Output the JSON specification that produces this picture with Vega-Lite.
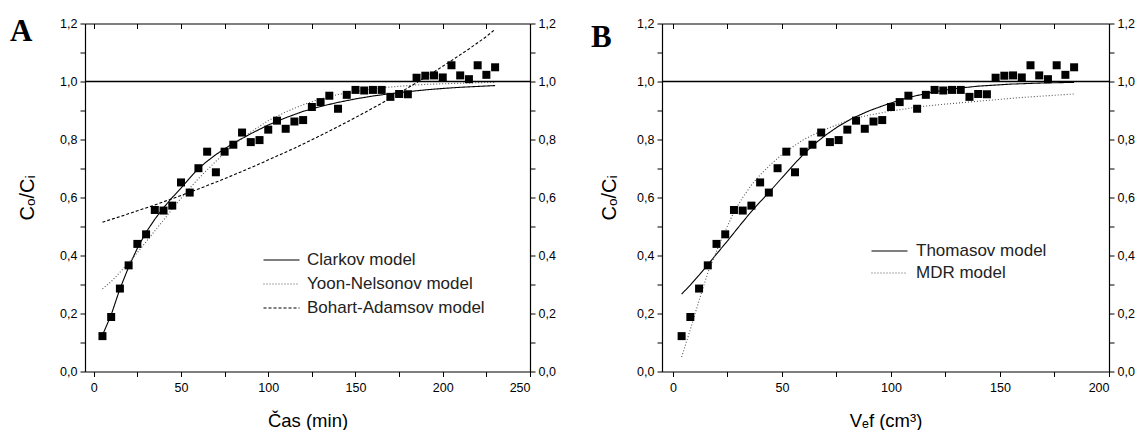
{
  "$schema": "https://vega.github.io/schema/vega-lite/v6.json",
  "padding": {"left": 10, "top": 15.5, "right": 0, "bottom": 0},
  "spacing": 35,
  "background": "white",
  "resolve": {"scale": {"color": "independent", "strokeDash": "independent"}, "legend": {"color": "independent", "strokeDash": "independent"}},
  "config": {
    "view": {"stroke": null},
    "axis": {
      "grid": false,
      "labelFont": "Liberation Sans",
      "labelFontSize": 12.5,
      "labelColor": "#000",
      "domainColor": "#000",
      "domainWidth": 1.2,
      "tickColor": "#000",
      "tickWidth": 1,
      "titleFont": "Liberation Sans",
      "titleFontSize": 18.5,
      "titleFontWeight": "normal",
      "titleColor": "#000"
    },
    "legend": {
      "labelFont": "Liberation Sans",
      "labelFontSize": 17,
      "labelColor": "#222",
      "labelLimit": 400
    }
  },
  "datasets": {
    "points": [
      {"t": 5, "V": 4, "c": 0.122}, {"t": 10, "V": 8, "c": 0.188}, {"t": 15, "V": 12, "c": 0.286},
      {"t": 20, "V": 16, "c": 0.366}, {"t": 25, "V": 20, "c": 0.44}, {"t": 30, "V": 24, "c": 0.473},
      {"t": 35, "V": 28, "c": 0.557}, {"t": 40, "V": 32, "c": 0.555}, {"t": 45, "V": 36, "c": 0.572},
      {"t": 50, "V": 40, "c": 0.652}, {"t": 55, "V": 44, "c": 0.617}, {"t": 60, "V": 48, "c": 0.701},
      {"t": 65, "V": 52, "c": 0.758}, {"t": 70, "V": 56, "c": 0.687}, {"t": 75, "V": 60, "c": 0.758},
      {"t": 80, "V": 64, "c": 0.782}, {"t": 85, "V": 68, "c": 0.824}, {"t": 90, "V": 72, "c": 0.791},
      {"t": 95, "V": 76, "c": 0.798}, {"t": 100, "V": 80, "c": 0.834}, {"t": 105, "V": 84, "c": 0.865},
      {"t": 110, "V": 88, "c": 0.837}, {"t": 115, "V": 92, "c": 0.862}, {"t": 120, "V": 96, "c": 0.867},
      {"t": 125, "V": 100, "c": 0.912}, {"t": 130, "V": 104, "c": 0.929}, {"t": 135, "V": 108, "c": 0.951},
      {"t": 140, "V": 112, "c": 0.906}, {"t": 145, "V": 116, "c": 0.954}, {"t": 150, "V": 120, "c": 0.971},
      {"t": 155, "V": 124, "c": 0.969}, {"t": 160, "V": 128, "c": 0.971}, {"t": 165, "V": 132, "c": 0.971},
      {"t": 170, "V": 136, "c": 0.947}, {"t": 175, "V": 140, "c": 0.957}, {"t": 180, "V": 144, "c": 0.956},
      {"t": 185, "V": 148, "c": 1.013}, {"t": 190, "V": 152, "c": 1.02}, {"t": 195, "V": 156, "c": 1.021},
      {"t": 200, "V": 160, "c": 1.014}, {"t": 205, "V": 164, "c": 1.056}, {"t": 210, "V": 168, "c": 1.021},
      {"t": 215, "V": 172, "c": 1.008}, {"t": 220, "V": 176, "c": 1.056}, {"t": 225, "V": 180, "c": 1.023},
      {"t": 230, "V": 184, "c": 1.049}
    ],
    "modelsA": [
      {"model": "Clarkov model", "t": 5, "c": 0.125}, {"model": "Clarkov model", "t": 10, "c": 0.195},
      {"model": "Clarkov model", "t": 15, "c": 0.285}, {"model": "Clarkov model", "t": 20, "c": 0.36},
      {"model": "Clarkov model", "t": 25, "c": 0.425}, {"model": "Clarkov model", "t": 30, "c": 0.48},
      {"model": "Clarkov model", "t": 35, "c": 0.525}, {"model": "Clarkov model", "t": 40, "c": 0.565},
      {"model": "Clarkov model", "t": 45, "c": 0.6}, {"model": "Clarkov model", "t": 50, "c": 0.632},
      {"model": "Clarkov model", "t": 55, "c": 0.667}, {"model": "Clarkov model", "t": 60, "c": 0.7},
      {"model": "Clarkov model", "t": 65, "c": 0.725}, {"model": "Clarkov model", "t": 70, "c": 0.748},
      {"model": "Clarkov model", "t": 75, "c": 0.768}, {"model": "Clarkov model", "t": 80, "c": 0.787},
      {"model": "Clarkov model", "t": 90, "c": 0.82}, {"model": "Clarkov model", "t": 100, "c": 0.85},
      {"model": "Clarkov model", "t": 110, "c": 0.875}, {"model": "Clarkov model", "t": 120, "c": 0.897},
      {"model": "Clarkov model", "t": 130, "c": 0.914}, {"model": "Clarkov model", "t": 140, "c": 0.928},
      {"model": "Clarkov model", "t": 150, "c": 0.94}, {"model": "Clarkov model", "t": 160, "c": 0.95},
      {"model": "Clarkov model", "t": 170, "c": 0.958}, {"model": "Clarkov model", "t": 180, "c": 0.965},
      {"model": "Clarkov model", "t": 190, "c": 0.971}, {"model": "Clarkov model", "t": 200, "c": 0.976},
      {"model": "Clarkov model", "t": 210, "c": 0.98}, {"model": "Clarkov model", "t": 220, "c": 0.983},
      {"model": "Clarkov model", "t": 230, "c": 0.986},
      {"model": "Yoon-Nelsonov model", "t": 5, "c": 0.285}, {"model": "Yoon-Nelsonov model", "t": 10, "c": 0.31},
      {"model": "Yoon-Nelsonov model", "t": 15, "c": 0.342}, {"model": "Yoon-Nelsonov model", "t": 20, "c": 0.375},
      {"model": "Yoon-Nelsonov model", "t": 25, "c": 0.41}, {"model": "Yoon-Nelsonov model", "t": 30, "c": 0.447},
      {"model": "Yoon-Nelsonov model", "t": 35, "c": 0.485}, {"model": "Yoon-Nelsonov model", "t": 40, "c": 0.522},
      {"model": "Yoon-Nelsonov model", "t": 45, "c": 0.56}, {"model": "Yoon-Nelsonov model", "t": 50, "c": 0.597},
      {"model": "Yoon-Nelsonov model", "t": 55, "c": 0.632}, {"model": "Yoon-Nelsonov model", "t": 60, "c": 0.665},
      {"model": "Yoon-Nelsonov model", "t": 70, "c": 0.725}, {"model": "Yoon-Nelsonov model", "t": 80, "c": 0.78},
      {"model": "Yoon-Nelsonov model", "t": 90, "c": 0.826}, {"model": "Yoon-Nelsonov model", "t": 100, "c": 0.865},
      {"model": "Yoon-Nelsonov model", "t": 110, "c": 0.895}, {"model": "Yoon-Nelsonov model", "t": 120, "c": 0.92},
      {"model": "Yoon-Nelsonov model", "t": 130, "c": 0.94}, {"model": "Yoon-Nelsonov model", "t": 140, "c": 0.955},
      {"model": "Yoon-Nelsonov model", "t": 150, "c": 0.966}, {"model": "Yoon-Nelsonov model", "t": 160, "c": 0.975},
      {"model": "Yoon-Nelsonov model", "t": 170, "c": 0.981}, {"model": "Yoon-Nelsonov model", "t": 180, "c": 0.986},
      {"model": "Yoon-Nelsonov model", "t": 190, "c": 0.99}, {"model": "Yoon-Nelsonov model", "t": 200, "c": 0.992},
      {"model": "Yoon-Nelsonov model", "t": 210, "c": 0.994}, {"model": "Yoon-Nelsonov model", "t": 220, "c": 0.996},
      {"model": "Yoon-Nelsonov model", "t": 230, "c": 0.997},
      {"model": "Bohart-Adamsov model", "t": 5, "c": 0.515}, {"model": "Bohart-Adamsov model", "t": 15, "c": 0.534},
      {"model": "Bohart-Adamsov model", "t": 25, "c": 0.554}, {"model": "Bohart-Adamsov model", "t": 35, "c": 0.574},
      {"model": "Bohart-Adamsov model", "t": 45, "c": 0.596}, {"model": "Bohart-Adamsov model", "t": 55, "c": 0.618},
      {"model": "Bohart-Adamsov model", "t": 65, "c": 0.641}, {"model": "Bohart-Adamsov model", "t": 75, "c": 0.665},
      {"model": "Bohart-Adamsov model", "t": 85, "c": 0.69}, {"model": "Bohart-Adamsov model", "t": 95, "c": 0.716},
      {"model": "Bohart-Adamsov model", "t": 105, "c": 0.743}, {"model": "Bohart-Adamsov model", "t": 115, "c": 0.77},
      {"model": "Bohart-Adamsov model", "t": 125, "c": 0.799}, {"model": "Bohart-Adamsov model", "t": 135, "c": 0.829},
      {"model": "Bohart-Adamsov model", "t": 145, "c": 0.86}, {"model": "Bohart-Adamsov model", "t": 155, "c": 0.892},
      {"model": "Bohart-Adamsov model", "t": 165, "c": 0.925}, {"model": "Bohart-Adamsov model", "t": 175, "c": 0.96},
      {"model": "Bohart-Adamsov model", "t": 185, "c": 0.996}, {"model": "Bohart-Adamsov model", "t": 195, "c": 1.033},
      {"model": "Bohart-Adamsov model", "t": 205, "c": 1.072}, {"model": "Bohart-Adamsov model", "t": 215, "c": 1.112},
      {"model": "Bohart-Adamsov model", "t": 225, "c": 1.155}, {"model": "Bohart-Adamsov model", "t": 230, "c": 1.18}
    ],
    "modelsB": [
      {"model": "Thomasov model", "V": 4, "c": 0.267}, {"model": "Thomasov model", "V": 8, "c": 0.298},
      {"model": "Thomasov model", "V": 12, "c": 0.332}, {"model": "Thomasov model", "V": 16, "c": 0.368},
      {"model": "Thomasov model", "V": 20, "c": 0.405}, {"model": "Thomasov model", "V": 25, "c": 0.45},
      {"model": "Thomasov model", "V": 30, "c": 0.497}, {"model": "Thomasov model", "V": 35, "c": 0.543},
      {"model": "Thomasov model", "V": 40, "c": 0.585}, {"model": "Thomasov model", "V": 44, "c": 0.617},
      {"model": "Thomasov model", "V": 50, "c": 0.668}, {"model": "Thomasov model", "V": 55, "c": 0.71},
      {"model": "Thomasov model", "V": 60, "c": 0.75}, {"model": "Thomasov model", "V": 65, "c": 0.785},
      {"model": "Thomasov model", "V": 70, "c": 0.815}, {"model": "Thomasov model", "V": 76, "c": 0.846},
      {"model": "Thomasov model", "V": 82, "c": 0.872}, {"model": "Thomasov model", "V": 90, "c": 0.899},
      {"model": "Thomasov model", "V": 98, "c": 0.921}, {"model": "Thomasov model", "V": 108, "c": 0.945},
      {"model": "Thomasov model", "V": 120, "c": 0.965}, {"model": "Thomasov model", "V": 130, "c": 0.976},
      {"model": "Thomasov model", "V": 140, "c": 0.984}, {"model": "Thomasov model", "V": 155, "c": 0.991},
      {"model": "Thomasov model", "V": 170, "c": 0.995}, {"model": "Thomasov model", "V": 184, "c": 0.997},
      {"model": "MDR model", "V": 4, "c": 0.05}, {"model": "MDR model", "V": 8, "c": 0.145},
      {"model": "MDR model", "V": 12, "c": 0.245}, {"model": "MDR model", "V": 16, "c": 0.34},
      {"model": "MDR model", "V": 20, "c": 0.415}, {"model": "MDR model", "V": 24, "c": 0.485},
      {"model": "MDR model", "V": 28, "c": 0.55}, {"model": "MDR model", "V": 32, "c": 0.6},
      {"model": "MDR model", "V": 36, "c": 0.643}, {"model": "MDR model", "V": 40, "c": 0.678},
      {"model": "MDR model", "V": 45, "c": 0.715}, {"model": "MDR model", "V": 50, "c": 0.748},
      {"model": "MDR model", "V": 55, "c": 0.775}, {"model": "MDR model", "V": 60, "c": 0.8},
      {"model": "MDR model", "V": 67, "c": 0.826}, {"model": "MDR model", "V": 75, "c": 0.85},
      {"model": "MDR model", "V": 82, "c": 0.87}, {"model": "MDR model", "V": 90, "c": 0.884},
      {"model": "MDR model", "V": 100, "c": 0.898}, {"model": "MDR model", "V": 113, "c": 0.913},
      {"model": "MDR model", "V": 125, "c": 0.922}, {"model": "MDR model", "V": 140, "c": 0.932},
      {"model": "MDR model", "V": 160, "c": 0.945}, {"model": "MDR model", "V": 184, "c": 0.957}
    ]
  },
  "hconcat": [
    {
      "width": 445,
      "height": 348,
      "title": {"text": "A", "anchor": "start", "frame": "group", "font": "Liberation Serif", "fontSize": 31, "fontWeight": "bold", "color": "#000", "offset": 0, "dx": -75, "dy": 54, "baseline": "alphabetic"},
      "layer": [
        {
          "data": {"name": "modelsA"},
          "mark": {"type": "line", "strokeWidth": 1.1},
          "encoding": {
            "x": {"field": "t", "type": "quantitative", "scale": {"domain": [-5, 250], "nice": false, "zero": false},
                  "axis": {"orient": "top", "title": null, "labels": false, "tickSize": -5, "values": [0, 25, 50, 75, 100, 125, 150, 175, 200, 225, 250]}},
            "y": {"field": "c", "type": "quantitative", "scale": {"domain": [0, 1.2], "nice": false, "zero": false},
                  "axis": {"orient": "right", "title": null, "tickSize": 5, "labelPadding": 3, "labelOverlap": false,
                           "values": [0, 0.1, 0.2, 0.3, 0.4, 0.5, 0.6, 0.7, 0.8, 0.9, 1.0, 1.1, 1.2],
                           "labelExpr": "round(datum.value*10) % 2 == 0 ? replace(format(datum.value, '.1f'), '.', ',') : ''"}},
            "color": {"field": "model", "type": "nominal",
                      "scale": {"domain": ["Clarkov model", "Yoon-Nelsonov model", "Bohart-Adamsov model"], "range": ["#000000", "#555555", "#000000"]},
                      "legend": {"title": null, "orient": "none", "legendX": 188, "legendY": 228, "symbolType": "M-3,0H3", "symbolSize": 144, "symbolStrokeWidth": 1.1, "labelOffset": 17, "rowPadding": 6, "padding": 0}},
            "strokeDash": {"field": "model", "type": "nominal",
                      "scale": {"domain": ["Clarkov model", "Yoon-Nelsonov model", "Bohart-Adamsov model"], "range": [[1, 0], [1, 2], [3, 2]]},
                      "legend": {"title": null, "orient": "none", "legendX": 188, "legendY": 228, "symbolType": "M-3,0H3", "symbolSize": 144, "symbolStrokeWidth": 1.1, "labelOffset": 17, "rowPadding": 6, "padding": 0}}
          }
        },
        {
          "data": {"values": [{}]},
          "mark": {"type": "rule", "color": "#000", "strokeWidth": 1.5},
          "encoding": {"y": {"datum": 1, "type": "quantitative", "axis": null}}
        },
        {
          "data": {"name": "points"},
          "mark": {"type": "square", "size": 64, "color": "#000", "opacity": 1},
          "encoding": {
            "x": {"field": "t", "type": "quantitative",
                  "axis": {"orient": "bottom", "title": "Čas (min)", "tickSize": 5, "labelPadding": 5, "titlePadding": 17, "labelOverlap": false,
                           "values": [0, 25, 50, 75, 100, 125, 150, 175, 200, 225, 250],
                           "labelExpr": "datum.value % 50 == 0 ? format(datum.value, 'd') : ''"}},
            "y": {"field": "c", "type": "quantitative",
                  "axis": {"orient": "left", "title": "Cₒ/Cᵢ", "titleFontSize": 20, "titlePadding": 22, "tickSize": 5, "labelPadding": 3, "labelOverlap": false,
                           "values": [0, 0.1, 0.2, 0.3, 0.4, 0.5, 0.6, 0.7, 0.8, 0.9, 1.0, 1.1, 1.2],
                           "labelExpr": "round(datum.value*10) % 2 == 0 ? replace(format(datum.value, '.1f'), '.', ',') : ''"}}
          }
        }
      ],
      "resolve": {"axis": {"x": "independent", "y": "independent"}}
    },
    {
      "width": 447,
      "height": 348,
      "title": {"text": "B", "anchor": "start", "frame": "group", "font": "Liberation Serif", "fontSize": 31, "fontWeight": "bold", "color": "#000", "offset": 0, "dx": -71, "dy": 60, "baseline": "alphabetic"},
      "layer": [
        {
          "data": {"name": "modelsB"},
          "mark": {"type": "line", "strokeWidth": 1.1},
          "encoding": {
            "x": {"field": "V", "type": "quantitative", "scale": {"domain": [-5, 200], "nice": false, "zero": false},
                  "axis": {"orient": "top", "title": null, "labels": false, "tickSize": -5, "values": [0, 25, 50, 75, 100, 125, 150, 175, 200]}},
            "y": {"field": "c", "type": "quantitative", "scale": {"domain": [0, 1.2], "nice": false, "zero": false},
                  "axis": {"orient": "right", "title": null, "tickSize": 5, "labelPadding": 3, "labelOverlap": false,
                           "values": [0, 0.1, 0.2, 0.3, 0.4, 0.5, 0.6, 0.7, 0.8, 0.9, 1.0, 1.1, 1.2],
                           "labelExpr": "round(datum.value*10) % 2 == 0 ? replace(format(datum.value, '.1f'), '.', ',') : ''"}},
            "color": {"field": "model", "type": "nominal",
                      "scale": {"domain": ["Thomasov model", "MDR model"], "range": ["#000000", "#555555"]},
                      "legend": {"title": null, "orient": "none", "legendX": 219, "legendY": 219, "symbolType": "M-3,0H3", "symbolSize": 144, "symbolStrokeWidth": 1.1, "labelOffset": 18, "rowPadding": 4, "padding": 0}},
            "strokeDash": {"field": "model", "type": "nominal",
                      "scale": {"domain": ["Thomasov model", "MDR model"], "range": [[1, 0], [1, 2]]},
                      "legend": {"title": null, "orient": "none", "legendX": 219, "legendY": 219, "symbolType": "M-3,0H3", "symbolSize": 144, "symbolStrokeWidth": 1.1, "labelOffset": 18, "rowPadding": 4, "padding": 0}}
          }
        },
        {
          "data": {"values": [{}]},
          "mark": {"type": "rule", "color": "#000", "strokeWidth": 1.5},
          "encoding": {"y": {"datum": 1, "type": "quantitative", "axis": null}}
        },
        {
          "data": {"name": "points"},
          "mark": {"type": "square", "size": 64, "color": "#000", "opacity": 1},
          "encoding": {
            "x": {"field": "V", "type": "quantitative",
                  "axis": {"orient": "bottom", "title": "Vₑf (cm³)", "tickSize": 5, "labelPadding": 5, "titlePadding": 17, "labelOverlap": false,
                           "values": [0, 25, 50, 75, 100, 125, 150, 175, 200],
                           "labelExpr": "datum.value % 50 == 0 ? format(datum.value, 'd') : ''"}},
            "y": {"field": "c", "type": "quantitative",
                  "axis": {"orient": "left", "title": "Cₒ/Cᵢ", "titleFontSize": 20, "titlePadding": 17, "tickSize": 5, "labelPadding": 3, "labelOverlap": false,
                           "values": [0, 0.1, 0.2, 0.3, 0.4, 0.5, 0.6, 0.7, 0.8, 0.9, 1.0, 1.1, 1.2],
                           "labelExpr": "round(datum.value*10) % 2 == 0 ? replace(format(datum.value, '.1f'), '.', ',') : ''"}}
          }
        }
      ],
      "resolve": {"axis": {"x": "independent", "y": "independent"}}
    }
  ]
}
